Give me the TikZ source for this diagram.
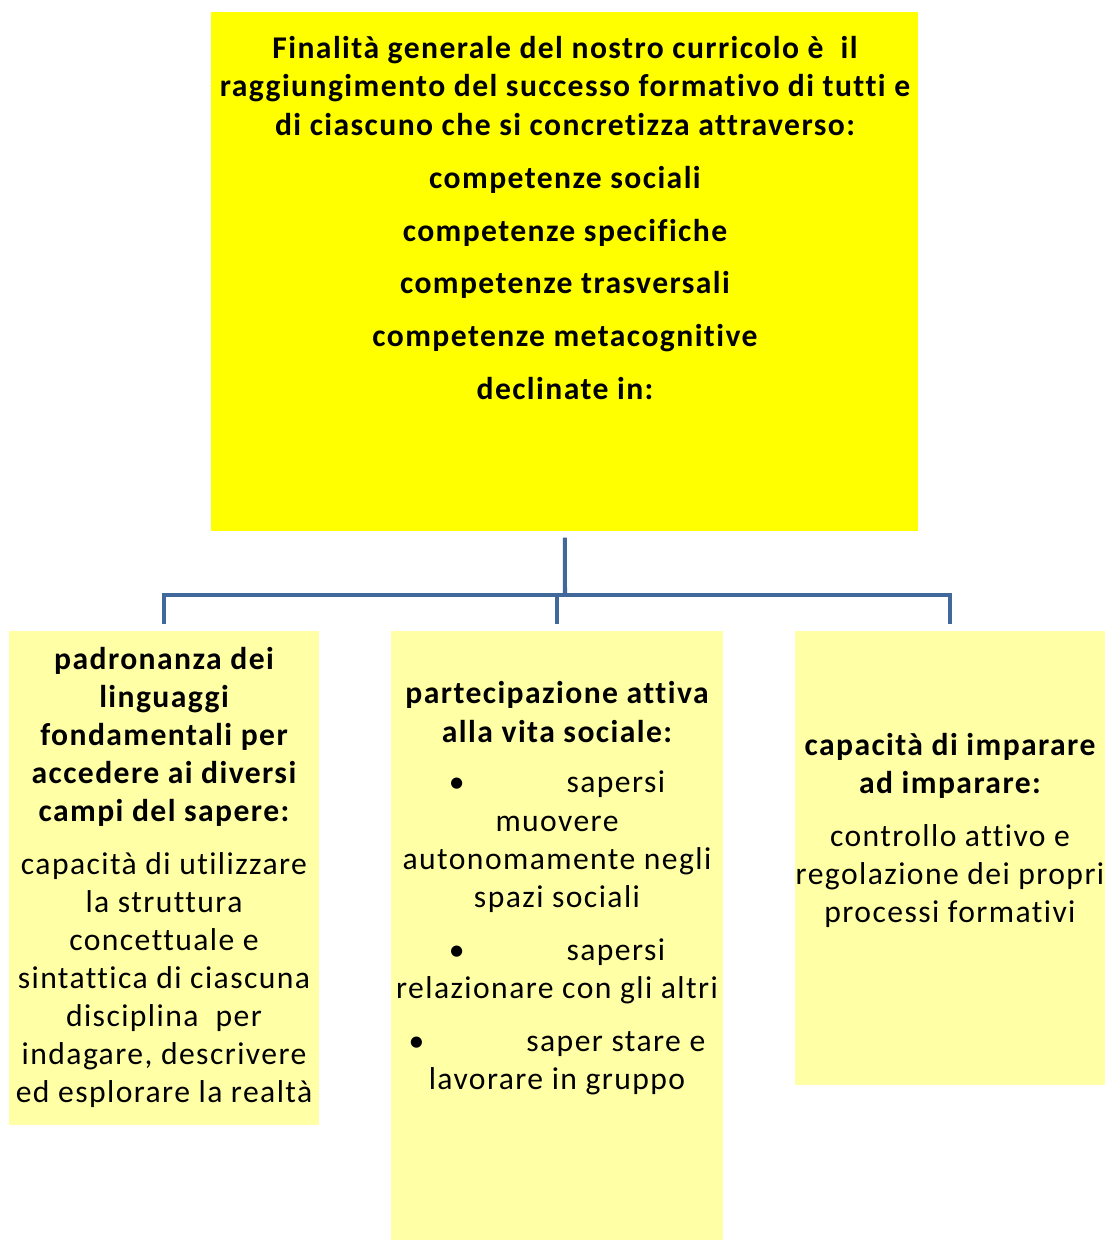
\documentclass[tikz,border=0pt]{standalone}
\usepackage{fontspec}
\setmainfont{Carlito}[LetterSpace=4.5, Ligatures=CommonOff]
\usetikzlibrary{positioning}
\definecolor{boxyellow}{RGB}{255,255,0}
\definecolor{paleyellow}{RGB}{255,255,166}
\definecolor{linkblue}{RGB}{64,104,154}
\newcommand{\bul}{\textbullet\hspace{58pt}}

\begin{document}
\begin{tikzpicture}[x=0.02cm, y=-0.02cm,
  every node/.style={font=\fontsize{18}{21.7}\selectfont, inner sep=0pt},
  box/.style={fill=#1, inner sep=0pt, anchor=north west},
  txt/.style={align=center, anchor=center},
  hd/.style={txt, font=\fontsize{18}{21.7}\selectfont\bfseries},
  link/.style={draw=linkblue, line width=2.3pt}
  ]
  \useasboundingbox (0,0) rectangle (1107,1240);

  % boxes
  \node[box=boxyellow,  minimum width=14.14cm, minimum height=10.38cm] (top)  at (211,12)  {};
  \node[box=paleyellow, minimum width=6.2cm,   minimum height=9.88cm]  (lbox) at (9,631)   {};
  \node[box=paleyellow, minimum width=6.64cm,  minimum height=12.18cm] (mbox) at (391,631) {};
  \node[box=paleyellow, minimum width=6.2cm,   minimum height=9.08cm]  (rbox) at (795,631) {};

  % top box
  \node[hd] (aim) at (565,86) {Finalità generale del nostro curricolo è\ \ il\\
    raggiungimento del successo formativo di tutti e\\
    di ciascuno che si concretizza attraverso:};
  \node[hd] (comp) at (565,283) {competenze sociali\\[8.4pt]
    competenze specifiche\\[8.4pt]
    competenze trasversali\\[8.4pt]
    competenze metacognitive\\[8.4pt]
    declinate in:};

  % left
  \node[hd] (lhead) at (164,737) {padronanza dei\\linguaggi\\fondamentali per\\accedere ai diversi\\campi del sapere:};
  \node[txt] (ltext) at (164,980) {capacità di utilizzare\\la struttura\\concettuale e\\sintattica di ciascuna\\disciplina\ \ per\\indagare, descrivere\\ed esplorare la realtà};

  % middle
  \node[hd] (mhead) at (557,712) {partecipazione attiva\\alla vita sociale:};
  \node[txt] (mtext) at (557,933) {\bul sapersi\\muovere\\autonomamente negli\\spazi sociali\\[8.4pt]
    \bul sapersi\\relazionare con gli altri\\[8.4pt]
    \bul saper stare e\\lavorare in gruppo};

  % right
  \node[hd] (rhead) at (950,766) {capacità di imparare\\ad imparare:};
  \node[txt] (rtext) at (950,876) {controllo attivo e\\regolazione dei propri\\processi formativi};

  % connectors
  \coordinate (hub) at (565,595);
  \draw[link] ([yshift=-0.12cm]top.south) -- (hub);
  \draw[link] ([yshift=0.14cm]lbox.north) |- (hub);
  \draw[link] ([yshift=0.14cm]mbox.north) |- (hub);
  \draw[link] ([yshift=0.14cm]rbox.north) |- (hub);
\end{tikzpicture}
\end{document}
